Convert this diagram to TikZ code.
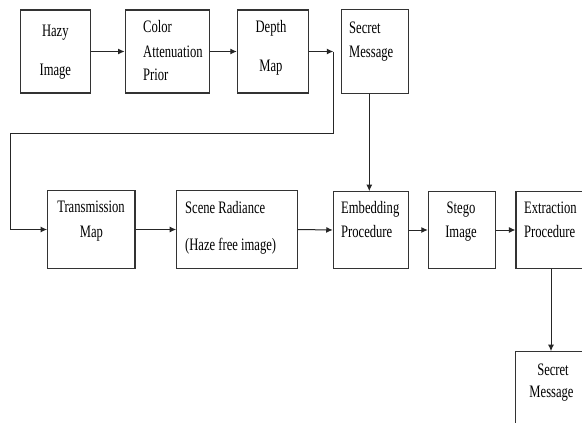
\documentclass[tikz,border=0pt]{standalone}
\usepackage{fontspec}
\setmainfont{Liberation Serif}[FakeStretch=0.72]
\usetikzlibrary{arrows.meta}
\begin{document}
\begin{tikzpicture}[x=1pt,y=-1pt,
  box/.style={draw=black!80,line width=1.1pt,rectangle,inner sep=0pt},
  txt/.style={inner sep=0pt,anchor=base,font=\fontsize{17.5}{20}\selectfont},
  ltxt/.style={txt,anchor=base west},
  arr/.style={draw=black!85,line width=1pt,-{Latex[length=6.5pt,width=6pt]}},
  ln/.style={draw=black!85,line width=1pt}]
\useasboundingbox (0,0) rectangle (582,423);
\clip (0,0) rectangle (582,423);
\fill[white] (0,0) rectangle (582,423);
% top row boxes
\node[box,minimum width=69.5pt,minimum height=83pt] (hazy) at (55.3,51.5) {};
\node[box,minimum width=84.3pt,minimum height=83pt] (cap) at (167.2,51.5) {};
\node[box,minimum width=71pt,minimum height=83pt] (depth) at (272.8,51.5) {};
\node[box,minimum width=66.6pt,minimum height=84pt] (secret) at (375,51.3) {};
% second row boxes
\node[box,minimum width=87.3pt,minimum height=77.6pt] (trans) at (91.3,229.5) {};
\node[box,minimum width=120.6pt,minimum height=77.6pt] (scene) at (237,229.5) {};
\node[box,minimum width=75pt,minimum height=76.6pt] (emb) at (370.8,230) {};
\node[box,minimum width=66.7pt,minimum height=76.6pt] (stego) at (461.7,230) {};
\node[box,minimum width=70pt,minimum height=76.6pt] (extr) at (551,230) {};
% bottom box
\node[box,minimum width=70.6pt,minimum height=90pt] (secret2) at (551,396.7) {};
% texts
\node[txt] (t1) at (55.3,37) {Hazy};
\node[txt] (t2) at (55.3,75) {Image};
\node[ltxt] (t3) at (143,32) {Color};
\node[ltxt] (t4) at (143,57) {Attenuation};
\node[ltxt] (t5) at (143,80) {Prior};
\node[txt] (t6) at (271,32) {Depth};
\node[txt] (t7) at (271,71) {Map};
\node[ltxt] (t8) at (349,33) {Secret};
\node[ltxt] (t9) at (349,57) {Message};
\node[txt] (t10) at (91,212) {Transmission};
\node[txt] (t11) at (91.5,237) {Map};
\node[ltxt] (t12) at (185,213) {Scene Radiance};
\node[ltxt] (t13) at (185,250) {(Haze free image)};
\node[ltxt] (t14) at (341,213) {Embedding};
\node[ltxt] (t15) at (341,237) {Procedure};
\node[txt] (t16) at (461,213) {Stego};
\node[txt] (t17) at (461,237) {Image};
\node[ltxt] (t18) at (524,213) {Extraction};
\node[ltxt] (t19) at (524,237) {Procedure};
\node[txt] (t20) at (553,375) {Secret};
\node[txt] (t21) at (551.5,397) {Message};
% connectors
\coordinate (turn) at (333.3,51.5);
\coordinate (c1) at (333.3,133.3);
\coordinate (c2) at (10.7,133.3);
\draw[arr] (hazy.east) -- (cap.west);
\draw[arr] (cap.east) -- (depth.west);
\draw[arr] (depth.east) -- (turn);
\draw[ln] (turn) -- (c1) -- (c2) -- (c2 |- trans.west);
\draw[arr] (c2 |- trans.west) -- (trans.west);
\draw[arr] (trans.east) -- (scene.west);
\draw[arr] (scene.east) -- (emb.west);
\draw[arr] (emb.east) -- (stego.west);
\draw[arr] (stego.east) -- (extr.west);
\draw[arr] (secret.south -| 369.3,0) -- (emb.north -| 369.3,0);
\draw[arr] (extr.south) -- (secret2.north);
\end{tikzpicture}
\end{document}
